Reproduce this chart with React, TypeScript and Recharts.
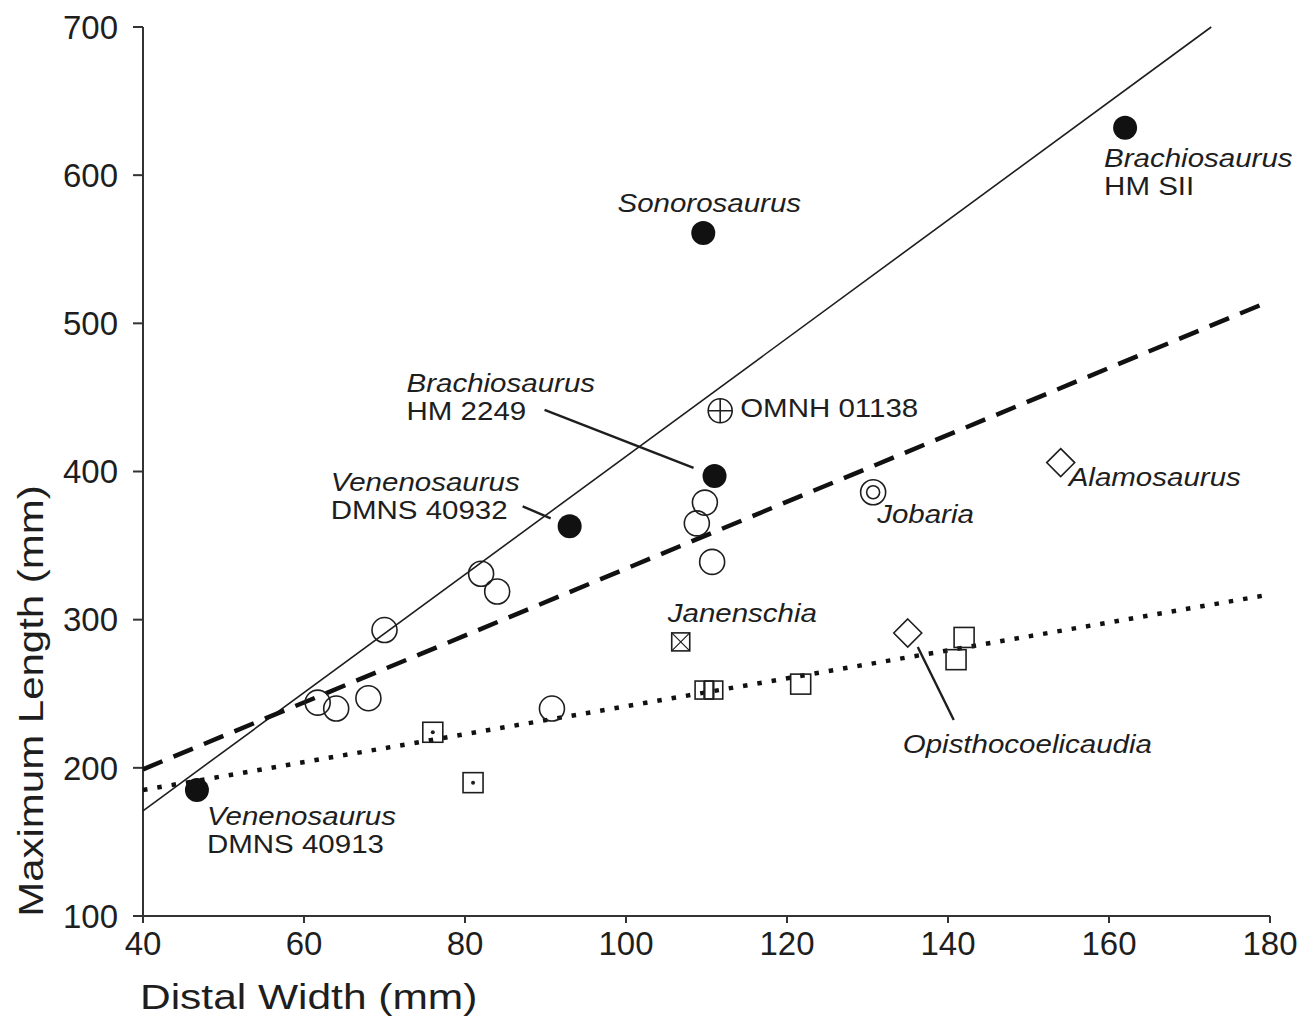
import React from "react";
import { ScatterChart, Scatter, XAxis, YAxis } from "recharts";

const xTicks = [40, 60, 80, 100, 120, 140, 160, 180];
const yTicks = [100, 200, 300, 400, 500, 600, 700];

// regression lines, end points
const solidFit = [{ x: 40, y: 171 }, { x: 172.7, y: 700 }];
const dashedFit = [{ x: 40, y: 199 }, { x: 180, y: 515 }];
const dottedFit = [{ x: 40, y: 185 }, { x: 180, y: 317 }];

const filledCircles = [
  { x: 46.7, y: 185, genus: "Venenosaurus", spec: "DMNS 40913" },
  { x: 93, y: 363, genus: "Venenosaurus", spec: "DMNS 40932" },
  { x: 111, y: 397, genus: "Brachiosaurus", spec: "HM 2249" },
  { x: 109.6, y: 561, genus: "Sonorosaurus" },
  { x: 162, y: 632, genus: "Brachiosaurus", spec: "HM SII" },
];

const openCircles = [
  { x: 61.7, y: 244 }, { x: 64, y: 240 }, { x: 68, y: 247 },
  { x: 70, y: 293 }, { x: 82, y: 331 }, { x: 84, y: 319 },
  { x: 90.8, y: 240 }, { x: 108.8, y: 365 }, { x: 109.8, y: 379 },
  { x: 110.7, y: 339 },
];

const openSquares = [{ x: 121.7, y: 256.5 }, { x: 141, y: 273 }, { x: 142, y: 288 }];
const dotSquares = [{ x: 76, y: 224 }, { x: 81, y: 190 }];
const splitSquares = [{ x: 109.7, y: 252.5 }, { x: 110.9, y: 252.5 }];
const crossSquares = [{ x: 106.8, y: 285, genus: "Janenschia" }];
const crossCircles = [{ x: 111.7, y: 441, spec: "OMNH 01138" }];
const ringCircles = [{ x: 130.7, y: 386, genus: "Jobaria" }];
const diamonds = [
  { x: 154, y: 406, genus: "Alamosaurus" },
  { x: 135, y: 291, genus: "Opisthocoelicaudia" },
];

// label placement in pixels relative to the marker
const labelPos: Record<string, { dx: number; dy: number; anchor?: string; lead?: number[] }> = {
  "Venenosaurus DMNS 40913": { dx: 10, dy: 35 },
  "Venenosaurus DMNS 40932": { dx: -239, dy: -35, lead: [-47, -20, -19, -8] },
  "Brachiosaurus HM 2249": { dx: -308, dy: -84, lead: [-170, -66, -21, -8] },
  "Sonorosaurus": { dx: 6, dy: -21, anchor: "middle" },
  "Brachiosaurus HM SII": { dx: -21, dy: 39 },
  "OMNH 01138": { dx: 20, dy: 6 },
  "Jobaria": { dx: 4, dy: 31 },
  "Alamosaurus": { dx: 8, dy: 23 },
  "Janenschia": { dx: -13, dy: -20 },
  "Opisthocoelicaudia": { dx: -5, dy: 120, lead: [10, 14, 46, 87] },
};

const INK = "#1e1e1e";
const FONT = "'Liberation Sans', Arial, sans-serif";

function SText({ x, y, size, italic, anchor = "start", rotate, sx = 1.18, children }: any) {
  const t = rotate
    ? `translate(${x} ${y}) rotate(-90) scale(${sx} 1)`
    : `translate(${x} ${y}) scale(${sx} 1)`;
  return (
    <text transform={t} fontSize={size} fontStyle={italic ? "italic" : "normal"}
      fontFamily={FONT} fill={INK} textAnchor={anchor}>
      {children}
    </text>
  );
}

function Note({ cx, cy, payload }: any) {
  if (!payload || (!payload.genus && !payload.spec)) return null;
  const key = [payload.genus, payload.spec].filter(Boolean).join(" ");
  const p = labelPos[key];
  if (!p) return null;
  const x = cx + p.dx;
  const y = cy + p.dy;
  return (
    <g>
      {p.lead && (
        <line x1={cx + p.lead[0]} y1={cy + p.lead[1]} x2={cx + p.lead[2]} y2={cy + p.lead[3]}
          stroke={INK} strokeWidth={2.4} />
      )}
      {payload.genus && (
        <SText x={x} y={y} size={25} italic anchor={p.anchor}>{payload.genus}</SText>
      )}
      {payload.spec && (
        <SText x={x} y={payload.genus ? y + 28 : y} size={25} anchor={p.anchor}>{payload.spec}</SText>
      )}
    </g>
  );
}

const sw = 1.6;

const FilledDot = (p: any) => (
  <g><circle cx={p.cx} cy={p.cy} r={12} fill="#111" /><Note {...p} /></g>
);
const OpenDot = (p: any) => (
  <circle cx={p.cx} cy={p.cy} r={12.5} fill="none" stroke={INK} strokeWidth={sw} />
);
const Square = (p: any) => (
  <rect x={p.cx - 10} y={p.cy - 10} width={20} height={20} fill="none" stroke={INK} strokeWidth={sw} />
);
const DotSquare = (p: any) => (
  <g>
    <rect x={p.cx - 10} y={p.cy - 10} width={20} height={20} fill="none" stroke={INK} strokeWidth={sw} />
    <circle cx={p.cx} cy={p.cy} r={2} fill={INK} />
  </g>
);
const SplitSquare = (p: any) => (
  <g>
    <rect x={p.cx - 9} y={p.cy - 9} width={18} height={18} fill="none" stroke={INK} strokeWidth={sw} />
    <line x1={p.cx} y1={p.cy - 9} x2={p.cx} y2={p.cy + 9} stroke={INK} strokeWidth={sw} />
  </g>
);
const CrossSquare = (p: any) => (
  <g>
    <rect x={p.cx - 9} y={p.cy - 9} width={18} height={18} fill="none" stroke={INK} strokeWidth={sw} />
    <path d={`M${p.cx - 9},${p.cy - 9}L${p.cx + 9},${p.cy + 9}M${p.cx + 9},${p.cy - 9}L${p.cx - 9},${p.cy + 9}`}
      stroke={INK} strokeWidth={1.2} />
    <Note {...p} />
  </g>
);
const CrossCircle = (p: any) => (
  <g>
    <circle cx={p.cx} cy={p.cy} r={12} fill="none" stroke={INK} strokeWidth={sw} />
    <path d={`M${p.cx - 12},${p.cy}L${p.cx + 12},${p.cy}M${p.cx},${p.cy - 12}L${p.cx},${p.cy + 12}`}
      stroke={INK} strokeWidth={sw} />
    <Note {...p} />
  </g>
);
const RingCircle = (p: any) => (
  <g>
    <circle cx={p.cx} cy={p.cy} r={12.5} fill="none" stroke={INK} strokeWidth={sw} />
    <circle cx={p.cx} cy={p.cy} r={6.5} fill="none" stroke={INK} strokeWidth={sw} />
    <Note {...p} />
  </g>
);
const Diamond = (p: any) => (
  <g>
    <path d={`M${p.cx},${p.cy - 14}L${p.cx + 14},${p.cy}L${p.cx},${p.cy + 14}L${p.cx - 14},${p.cy}Z`}
      fill="none" stroke={INK} strokeWidth={sw} />
    <Note {...p} />
  </g>
);
const NoMark = () => <g />;

const tickStyle = { fontSize: 33, fill: INK, fontFamily: FONT };
const axisStroke = { stroke: "#333", strokeWidth: 2 };

export default function App() {
  return (
    <div style={{ position: "absolute", left: 0, top: 0, width: 1307, height: 1018, background: "#fff" }}>
      <ScatterChart width={1307} height={1018} margin={{ top: 27, right: 37, left: 0, bottom: 0 }}>
        <XAxis
          type="number" dataKey="x" domain={[40, 180]} ticks={xTicks} height={102}
          tick={tickStyle} tickSize={7} tickMargin={9}
          axisLine={axisStroke} tickLine={axisStroke}
          label={{ content: () => <SText x={140} y={1009} size={36}>Distal Width (mm)</SText> }}
        />
        <YAxis
          type="number" dataKey="y" domain={[100, 700]} ticks={yTicks} width={143}
          tick={tickStyle} tickSize={10} tickMargin={15}
          axisLine={axisStroke} tickLine={axisStroke}
          label={{ content: () => <SText x={43} y={701} size={35} rotate sx={1.2} anchor="middle">Maximum Length (mm)</SText> }}
        />
        <Scatter data={solidFit} line={{ stroke: INK, strokeWidth: 1.6 }} shape={NoMark} isAnimationActive={false} />
        <Scatter data={dashedFit} line={{ stroke: "#111", strokeWidth: 4.5, strokeDasharray: "21 12" }} shape={NoMark} isAnimationActive={false} />
        <Scatter data={dottedFit} line={{ stroke: "#111", strokeWidth: 4.5, strokeDasharray: "4.5 10" }} shape={NoMark} isAnimationActive={false} />
        <Scatter data={openCircles} shape={OpenDot} isAnimationActive={false} />
        <Scatter data={openSquares} shape={Square} isAnimationActive={false} />
        <Scatter data={dotSquares} shape={DotSquare} isAnimationActive={false} />
        <Scatter data={splitSquares} shape={SplitSquare} isAnimationActive={false} />
        <Scatter data={crossSquares} shape={CrossSquare} isAnimationActive={false} />
        <Scatter data={crossCircles} shape={CrossCircle} isAnimationActive={false} />
        <Scatter data={ringCircles} shape={RingCircle} isAnimationActive={false} />
        <Scatter data={diamonds} shape={Diamond} isAnimationActive={false} />
        <Scatter data={filledCircles} shape={FilledDot} isAnimationActive={false} />
      </ScatterChart>
    </div>
  );
}
